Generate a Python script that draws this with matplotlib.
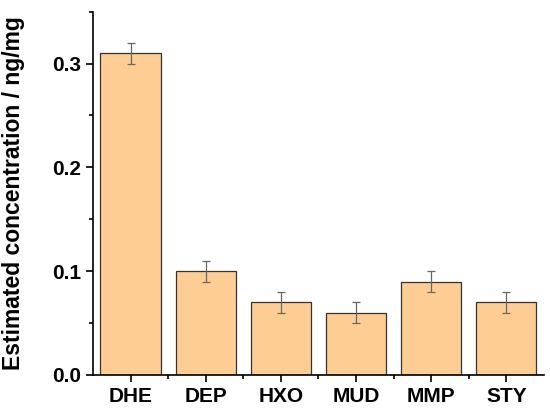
import matplotlib
matplotlib.use("Agg")
import matplotlib.pyplot as plt
from matplotlib.ticker import MultipleLocator

# Compounds and estimated concentrations (ng/mg)
compounds = ["DHE", "DEP", "HXO", "MUD", "MMP", "STY"]
concentration = [0.31, 0.10, 0.07, 0.06, 0.09, 0.07]
errors = [0.01, 0.01, 0.01, 0.01, 0.01, 0.01]

plt.rcParams["font.family"] = ["Liberation Sans", "DejaVu Sans"]
plt.rcParams["font.weight"] = "bold"

fig = plt.figure(figsize=(5.5, 4.11), dpi=100)
ax = fig.add_axes([0.169, 0.0876, 0.82, 0.884])

x = range(len(compounds))
ax.bar(x, concentration, width=0.8, color="#FECD94", edgecolor="#333333", linewidth=0.9,
       yerr=errors, error_kw=dict(ecolor="#666666", elinewidth=0.9, capsize=3, capthick=0.9))

ax.set_xlim(-0.5, 5.5)
ax.set_ylim(0, 0.35)
ax.set_xticks(list(x))
ax.set_xticklabels(compounds)
ax.set_xticks([i + 0.5 for i in range(len(compounds) - 1)], minor=True)
ax.yaxis.set_major_locator(MultipleLocator(0.1))
ax.yaxis.set_minor_locator(MultipleLocator(0.05))
ax.yaxis.set_major_formatter(plt.FuncFormatter(lambda v, p: f"{v:.1f}"))

for side in ["top", "right"]:
    ax.spines[side].set_visible(False)
for side in ["left", "bottom"]:
    ax.spines[side].set_linewidth(1.2)

ax.tick_params(which="major", length=5, width=1.2, labelsize=15, direction="out")
ax.tick_params(which="minor", length=3, width=1.2, direction="out")
ax.set_ylabel("Estimated concentration / ng/mg", fontsize=16.5, fontweight="bold")
ax.yaxis.set_label_coords(-0.15, 0.5)

fig.savefig("out.png", dpi=100)
